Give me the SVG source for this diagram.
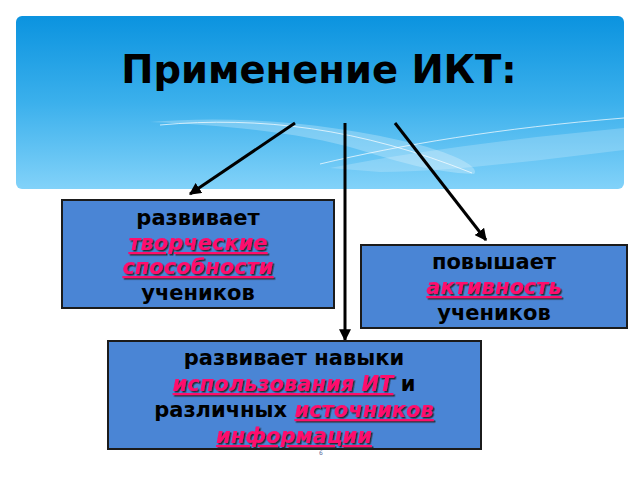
<svg xmlns="http://www.w3.org/2000/svg" width="640" height="480" viewBox="0 0 640 480">
<defs>
<linearGradient id="hdr" x1="0" y1="0" x2="0" y2="1">
<stop offset="0" stop-color="#0b93df"/>
<stop offset="0.5" stop-color="#3bb0ec"/>
<stop offset="1" stop-color="#82d2f9"/>
</linearGradient>
<filter id="sh" x="-10%" y="-20%" width="120%" height="150%">
<feDropShadow dx="1.5" dy="1.5" stdDeviation="0.6" flood-color="#222" flood-opacity="0.85"/>
</filter>
<marker id="ah" viewBox="0 0 10 10" refX="9" refY="5" markerWidth="4" markerHeight="4" orient="auto" markerUnits="strokeWidth">
<path d="M0,0 L10,5 L0,10 z" fill="#000"/>
</marker>
<style>
.box{fill:#4a85d5;stroke:#1b1b1b;stroke-width:2}
.t{font-family:"DejaVu Sans","Liberation Sans",sans-serif;font-weight:bold;font-size:21px;fill:#000;text-anchor:middle}
.hl{fill:#ff0a6c;font-style:italic;text-decoration:underline;filter:url(#sh)}
.c{stroke:#000;stroke-width:3;fill:none;marker-end:url(#ah)}
</style>
</defs>
<rect width="640" height="480" fill="#fff"/>
<g id="header">
<rect x="16" y="16" width="608" height="173" rx="6" fill="url(#hdr)"/>
<path d="M150,122 C230,115 330,122 420,145 C460,156 480,168 474,174 C430,172 400,162 360,150 C300,132 220,125 150,122 z" fill="#fff" fill-opacity="0.25"/>
<path d="M330,168 C420,150 520,138 624,128 L624,150 C540,160 450,172 380,172 z" fill="#fff" fill-opacity="0.2"/>
<path d="M160,125 C260,116 360,128 472,173" stroke="#fff" stroke-opacity="0.7" stroke-width="1" fill="none"/>
<path d="M320,164 C400,145 500,128 624,118" stroke="#fff" stroke-opacity="0.7" stroke-width="1" fill="none"/>
<text x="319" y="83" font-family="DejaVu Sans, Liberation Sans, sans-serif" font-weight="bold" font-size="38.5" text-anchor="middle" fill="#000">Применение ИКТ:</text>
</g>
<g id="connectors">
<line class="c" x1="295" y1="123" x2="190" y2="194"/>
<line class="c" x1="345" y1="123" x2="345" y2="340"/>
<line class="c" x1="395" y1="123" x2="486" y2="240"/>
</g>
<g id="node1">
<rect class="box" x="62" y="200" width="272" height="108"/>
<text class="t" x="198" y="225">развивает</text>
<text class="t" x="198" y="250"><tspan class="hl">творческие</tspan></text>
<text class="t" x="198" y="274"><tspan class="hl">способности</tspan></text>
<text class="t" x="198" y="300">учеников</text>
</g>
<g id="node2">
<rect class="box" x="361" y="245" width="266" height="83"/>
<text class="t" x="494" y="269">повышает</text>
<text class="t" x="494" y="294"><tspan class="hl">активность</tspan></text>
<text class="t" x="494" y="320">учеников</text>
</g>
<g id="node3">
<rect class="box" x="108" y="341" width="373" height="108"/>
<text class="t" x="294" y="365">развивает навыки</text>
<text class="t" x="294" y="391"><tspan class="hl">использования ИТ</tspan> и</text>
<text class="t" x="294" y="417">различных <tspan class="hl">источников</tspan></text>
<text class="t" x="294" y="443"><tspan class="hl">информации</tspan></text>
</g>
<text x="321" y="455" font-family="DejaVu Sans, sans-serif" font-size="6" fill="#5a6a9a" text-anchor="middle">6</text>
</svg>
